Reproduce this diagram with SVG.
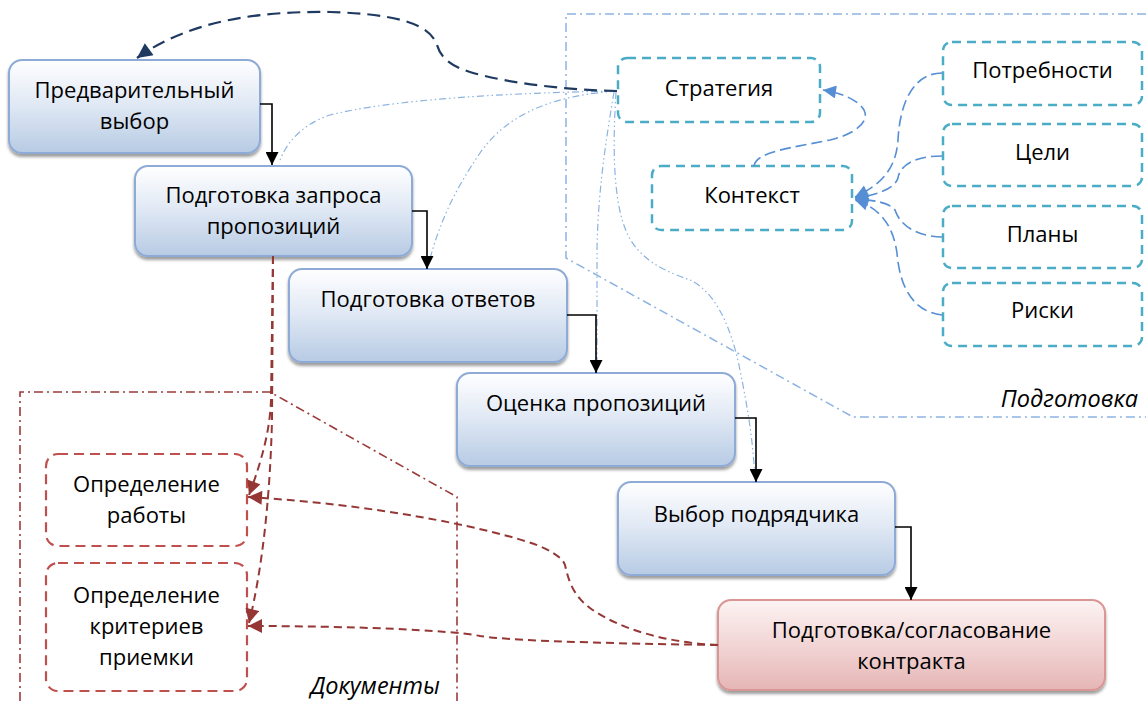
<svg xmlns="http://www.w3.org/2000/svg" width="1146" height="701" viewBox="0 0 1146 701">
<defs>
<linearGradient id="gBlue" x1="0" y1="0" x2="0" y2="1">
<stop offset="0" stop-color="#ffffff"/>
<stop offset="0.45" stop-color="#e2eaf5"/>
<stop offset="1" stop-color="#b7cbe4"/>
</linearGradient>
<linearGradient id="gPink" x1="0" y1="0" x2="0" y2="1">
<stop offset="0" stop-color="#fdf3f3"/>
<stop offset="0.45" stop-color="#f3d8d8"/>
<stop offset="1" stop-color="#e5b6b5"/>
</linearGradient>
<filter id="sh" x="-10%" y="-10%" width="120%" height="130%">
<feDropShadow dx="0" dy="3" stdDeviation="1.5" flood-color="#000" flood-opacity="0.38"/>
</filter>
<marker id="aBlack" viewBox="0 0 12 12" refX="12" refY="6" markerWidth="13" markerHeight="13" markerUnits="userSpaceOnUse" orient="auto">
<path d="M0,0 L12,6 L0,12 z" fill="#000"/>
</marker>
<marker id="aNavy" viewBox="0 0 12 12" refX="12" refY="6" markerWidth="17" markerHeight="15" markerUnits="userSpaceOnUse" orient="auto">
<path d="M0,0 L12,6 L0,12 z" fill="#1f3a60"/>
</marker>
<marker id="aRed" viewBox="0 0 12 12" refX="12" refY="6" markerWidth="15" markerHeight="14" markerUnits="userSpaceOnUse" orient="auto">
<path d="M0,0 L12,6 L0,12 z" fill="#953735"/>
</marker>
<marker id="aBlue" viewBox="0 0 12 12" refX="12" refY="6" markerWidth="14" markerHeight="13" markerUnits="userSpaceOnUse" orient="auto">
<path d="M0,0 L12,6 L0,12 z" fill="#558ed5"/>
</marker>
</defs>
<style>
text{font-family:"Open Sans","Liberation Sans",sans-serif;font-size:22px;fill:#000;text-anchor:middle}
.lab{font-style:italic;text-anchor:end;font-size:23.5px}
.pbox{fill:url(#gBlue);stroke:#8eaad6;stroke-width:2;filter:url(#sh)}
.kbox{fill:url(#gPink);stroke:#d99694;stroke-width:2;filter:url(#sh)}
.tbox{fill:#fff;stroke:#4bacc6;stroke-width:2.5;stroke-dasharray:9 6}
.rbox{fill:#fff;stroke:#c0504d;stroke-width:2.2;stroke-dasharray:10 6}
.flow{fill:none;stroke:#000;stroke-width:1.6;marker-end:url(#aBlack)}
.navy{fill:none;stroke:#1f3a60;stroke-width:2.2;stroke-dasharray:13 7;marker-end:url(#aNavy)}
.lb{fill:none;stroke:#8db3e2;stroke-width:1.2;stroke-dasharray:7 3 1.5 3 1.5 3}
.reg{fill:none;stroke:#8db3e2;stroke-width:1.5;stroke-dasharray:9 4 2 4}
.rreg{fill:none;stroke:#9b3b3a;stroke-width:1.6;stroke-dasharray:9 4 2 4}
.red{fill:none;stroke:#953735;stroke-width:2;stroke-dasharray:8 5;marker-end:url(#aRed)}
.blue{fill:none;stroke:#558ed5;stroke-width:1.6;stroke-dasharray:11 5;marker-end:url(#aBlue)}
</style>
<rect width="1146" height="701" fill="#fff"/>
<g id="regions">
<path class="reg" d="M1146,14 L566,14 L566,258 L853,417 L1146,417"/>
<path class="rreg" d="M20,701 L20,392 L270,392 L457,497 L457,701"/>
<text class="lab" x="1138" y="407">Подготовка</text>
<text class="lab" x="440" y="694">Документы</text>
</g>
<g id="n1"><rect class="pbox" x="9" y="60" width="251" height="93" rx="13"/><text x="134.5" y="98">Предварительный</text><text x="134.5" y="129">выбор</text></g>
<g id="n2"><rect class="pbox" x="135" y="166" width="277" height="90" rx="13"/><text x="273.5" y="203">Подготовка запроса</text><text x="273.5" y="234">пропозиций</text></g>
<g id="n3"><rect class="pbox" x="289" y="269" width="278" height="93" rx="13"/><text x="428" y="307">Подготовка ответов</text></g>
<g id="n4"><rect class="pbox" x="457" y="373" width="278" height="93" rx="13"/><text x="596" y="411">Оценка пропозиций</text></g>
<g id="n5"><rect class="pbox" x="618" y="482" width="277" height="93" rx="13"/><text x="756.5" y="522">Выбор подрядчика</text></g>
<g id="n6"><rect class="kbox" x="718" y="600" width="387" height="90" rx="13"/><text x="911.5" y="638">Подготовка/согласование</text><text x="911.5" y="669">контракта</text></g>
<g id="s1"><rect class="tbox" x="618" y="58" width="202" height="64" rx="9"/><text x="719" y="96">Стратегия</text></g>
<g id="s2"><rect class="tbox" x="652" y="166" width="200" height="64" rx="9"/><text x="752" y="203">Контекст</text></g>
<g id="s3"><rect class="tbox" x="943" y="42" width="199" height="63" rx="9"/><text x="1042.5" y="78">Потребности</text></g>
<g id="s4"><rect class="tbox" x="943" y="124" width="199" height="62" rx="9"/><text x="1042.5" y="160">Цели</text></g>
<g id="s5"><rect class="tbox" x="943" y="206" width="199" height="62" rx="9"/><text x="1042.5" y="242">Планы</text></g>
<g id="s6"><rect class="tbox" x="943" y="283" width="199" height="63" rx="9"/><text x="1042.5" y="318">Риски</text></g>
<g id="d1"><rect class="rbox" x="46" y="454" width="201" height="92" rx="12"/><text x="146.5" y="492">Определение</text><text x="146.5" y="523">работы</text></g>
<g id="d2"><rect class="rbox" x="46" y="563" width="201" height="128" rx="12"/><text x="146.5" y="603">Определение</text><text x="146.5" y="634">критериев</text><text x="146.5" y="665">приемки</text></g>
<g id="connectors">
<path class="lb" d="M617,91 C500,93 390,100 330,115 C300,125 285,145 279,163"/>
<path class="lb" d="M617,91 C560,95 510,110 480,153 C455,190 440,220 428,266"/>
<path class="lb" d="M614,92 C606,140 598,190 597,250 L597,372"/>
<path class="lb" d="M616,92 C613,140 612,200 627,233 C640,262 670,273 690,280 C712,290 730,320 740,370 C748,410 753,440 755,480"/>
<path class="navy" d="M617,91 C570,90 510,84 470,72 C447,65 440,55 437,45 C430,25 400,14 330,12 C260,11 190,20 137,58"/>
<path class="flow" d="M260,104 L272,104 L272,165"/>
<path class="flow" d="M412,211 L427,211 L427,269"/>
<path class="flow" d="M567,315 L596,315 L596,373"/>
<path class="flow" d="M735,418 L756,418 L756,482"/>
<path class="flow" d="M895,527 L911,527 L911,600"/>
<path class="blue" d="M754,166 C756,152 790,148 830,140 C855,134 870,122 864,110 C858,100 842,93 823,90"/>
<path class="blue" d="M942,73 C915,73 900,100 898,140 C896,170 880,185 855,197"/>
<path class="blue" d="M942,156 C915,156 900,165 898,178 C894,190 875,195 855,198"/>
<path class="blue" d="M942,237 C915,236 900,225 895,210 C890,203 875,200 855,199"/>
<path class="blue" d="M942,315 C915,312 900,290 897,253 C893,225 880,208 855,200"/>
<path class="red" d="M273,256 L271,400 C270,430 262,460 249,495"/>
<path class="red" d="M273,256 L272,420 C270,500 262,570 249,623"/>
<path class="red" d="M718,645 C670,643 620,630 590,608 C572,595 568,578 565,565 C562,556 545,547 525,541 C480,527 380,505 248,497"/>
<path class="red" d="M718,645 C650,644 520,642 480,636 C450,630 350,626 248,626"/>
</g>
</svg>
